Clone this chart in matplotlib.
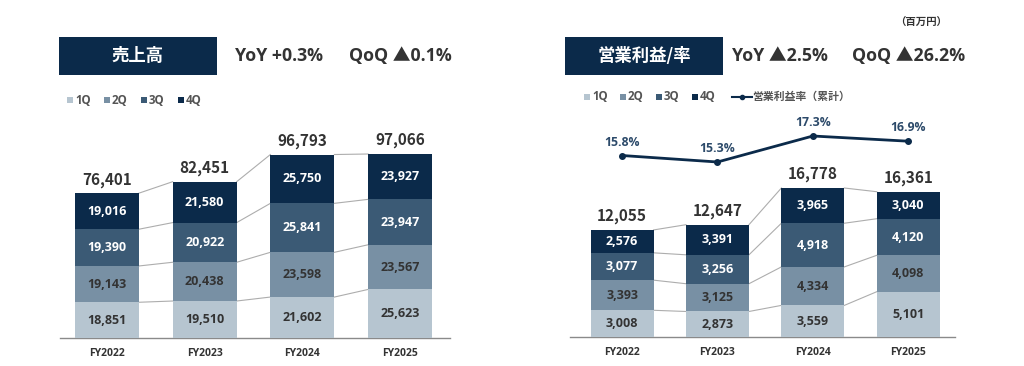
import numpy as np
import matplotlib
matplotlib.use('Agg')
import matplotlib.pyplot as plt
from matplotlib.patches import Rectangle
from matplotlib.lines import Line2D

plt.rcParams['font.family'] = ['Open Sans', 'Noto Sans CJK JP', 'DejaVu Sans']
cjk = ['Noto Sans CJK JP', 'DejaVu Sans']

# データ
years = ['FY2022', 'FY2023', 'FY2024', 'FY2025']
quarters = ['1Q', '2Q', '3Q', '4Q']

sales_1q = [18851, 19510, 21602, 25623]
sales_2q = [19143, 20438, 23598, 23567]
sales_3q = [19390, 20922, 25841, 23947]
sales_4q = [19016, 21580, 25750, 23927]
sales_total = [76401, 82451, 96793, 97066]

op_1q = [3008, 2873, 3559, 5101]
op_2q = [3393, 3125, 4334, 4098]
op_3q = [3077, 3256, 4918, 4120]
op_4q = [2576, 3391, 3965, 3040]
op_total = [12055, 12647, 16778, 16361]
op_margin = [15.8, 15.3, 17.3, 16.9]

colors = ['#b6c5d0', '#7890a4', '#3b5a75', '#0b2a4a']
label_colors = ['#333333', '#333333', 'white', 'white']
navy = '#0b2a4a'
W, H = 1024, 366


def px(x, y):
    return x / W, 1 - y / H


def stacked(ax, segs, totals, width):
    x = np.arange(len(years))
    bottom = np.zeros(len(years))
    levels = []
    for k, seg in enumerate(segs):
        seg = np.array(seg, dtype=float)
        ax.bar(x, seg, width, bottom=bottom, color=colors[k], zorder=3)
        for i in range(len(years)):
            ax.text(x[i], bottom[i] + seg[i] / 2, f'{int(seg[i]):,}', ha='center', va='center',
                    fontsize=9, fontweight='bold', color=label_colors[k], zorder=4)
        bottom = bottom + seg
        levels.append(bottom.copy())
    # 連結線
    for lev in levels:
        for i in range(len(years) - 1):
            ax.plot([x[i] + width / 2, x[i + 1] - width / 2], [lev[i], lev[i + 1]],
                    color='#adadad', lw=0.8, zorder=2)
    for i in range(len(years)):
        ax.annotate(f'{totals[i]:,}', (x[i], bottom[i]), xytext=(0, 4), textcoords='offset points',
                    ha='center', va='bottom', fontsize=11, fontweight='bold', color='#333333',
                    family=cjk)
    ax.set_xticks(x)
    ax.set_xticklabels(years, fontsize=7.5, fontweight='bold', color='#333333')
    ax.tick_params(axis='x', length=0, pad=7)
    ax.set_yticks([])
    for s in ['top', 'right', 'left']:
        ax.spines[s].set_visible(False)
    ax.spines['bottom'].set_color('#8a8a8a')
    ax.spines['bottom'].set_linewidth(1.0)
    ax.patch.set_alpha(0)


fig = plt.figure(figsize=(10.24, 3.66), dpi=100)

# 左：売上高
l, b = px(60, 338)
ax1 = fig.add_axes([l, b, 390 / W, 218 / H])
stacked(ax1, [sales_1q, sales_2q, sales_3q, sales_4q], sales_total, 0.655)
ax1.set_xlim(-0.48, 3.51)
ax1.set_ylim(0, 115000)

# 右：営業利益
l, b = px(570, 337)
ax2 = fig.add_axes([l, b, 385 / W, 227 / H])
stacked(ax2, [op_1q, op_2q, op_3q, op_4q], op_total, 0.66)
ax2.set_xlim(-0.546, 3.49)
ax2.set_ylim(0, 25560)

ax3 = ax2.twinx()
ax3.plot(np.arange(len(years)), op_margin, color=navy, lw=2, marker='o', ms=4, zorder=5)
for i, v in enumerate(op_margin):
    ax3.annotate(f'{v}%', (i, v), xytext=(0, 5), textcoords='offset points', ha='center', va='bottom',
                 fontsize=8.8, fontweight='bold', color='#2c4a6a')
ax3.set_ylim(1.84, 19.3)
ax3.set_yticks([])
for s in ax3.spines.values():
    s.set_visible(False)
ax3.set_xlim(-0.546, 3.49)

# タイトルボックス
for (x0, y0, x1, y1, title) in [(59, 37, 217, 75, '売上高'), (565, 37, 723, 75, '営業利益/率')]:
    fx, fy = px(x0, y1)
    fig.patches.append(Rectangle((fx, fy), (x1 - x0) / W, (y1 - y0) / H, transform=fig.transFigure,
                                 facecolor=navy, edgecolor='none'))
    cx, cy = px((x0 + x1) / 2, (y0 + y1) / 2)
    fig.text(cx, cy, title, ha='center', va='center', fontsize=12.5, fontweight='bold', color='white',
             family=cjk)

for (x, y, t) in [(235, 56, 'YoY +0.3%'), (349, 56, 'QoQ ▲0.1%'),
                  (732, 56, 'YoY ▲2.5%'), (852, 56, 'QoQ ▲26.2%')]:
    fx, fy = px(x, y)
    fig.text(fx, fy, t, ha='left', va='center', fontsize=12.8, fontweight='bold', color='#333333')

fx, fy = px(921, 23)
fig.text(fx, fy, '（百万円）', ha='center', va='center', fontsize=7.5, fontweight='bold', color='#333333')

# 凡例
for (x0, y0, step) in [(67, 100, 37), (584, 97, 36)]:
    for k, q in enumerate(quarters):
        fx, fy = px(x0 + k * step, y0)
        fig.patches.append(Rectangle((fx, fy - 3 / H), 6 / W, 6 / H, transform=fig.transFigure,
                                     facecolor=colors[k], edgecolor='none'))
        fx, fy = px(x0 + k * step + 8, y0)
        fig.text(fx, fy, q, ha='left', va='center', fontsize=8.3, fontweight='bold', color='#555555')

fx0, fy0 = px(732, 97)
fx1, _ = px(752, 97)
fig.lines.append(Line2D([fx0, fx1], [fy0, fy0], transform=fig.transFigure, color=navy, lw=1.5))
fig.lines.append(Line2D([(fx0 + fx1) / 2], [fy0], transform=fig.transFigure, color=navy, marker='o', ms=3))
fx, fy = px(752, 97)
fig.text(fx, fy, '営業利益率（累計）', ha='left', va='center', fontsize=7.8, fontweight='bold', color='#555555')

fig.savefig('out.png', dpi=100, facecolor='white')
